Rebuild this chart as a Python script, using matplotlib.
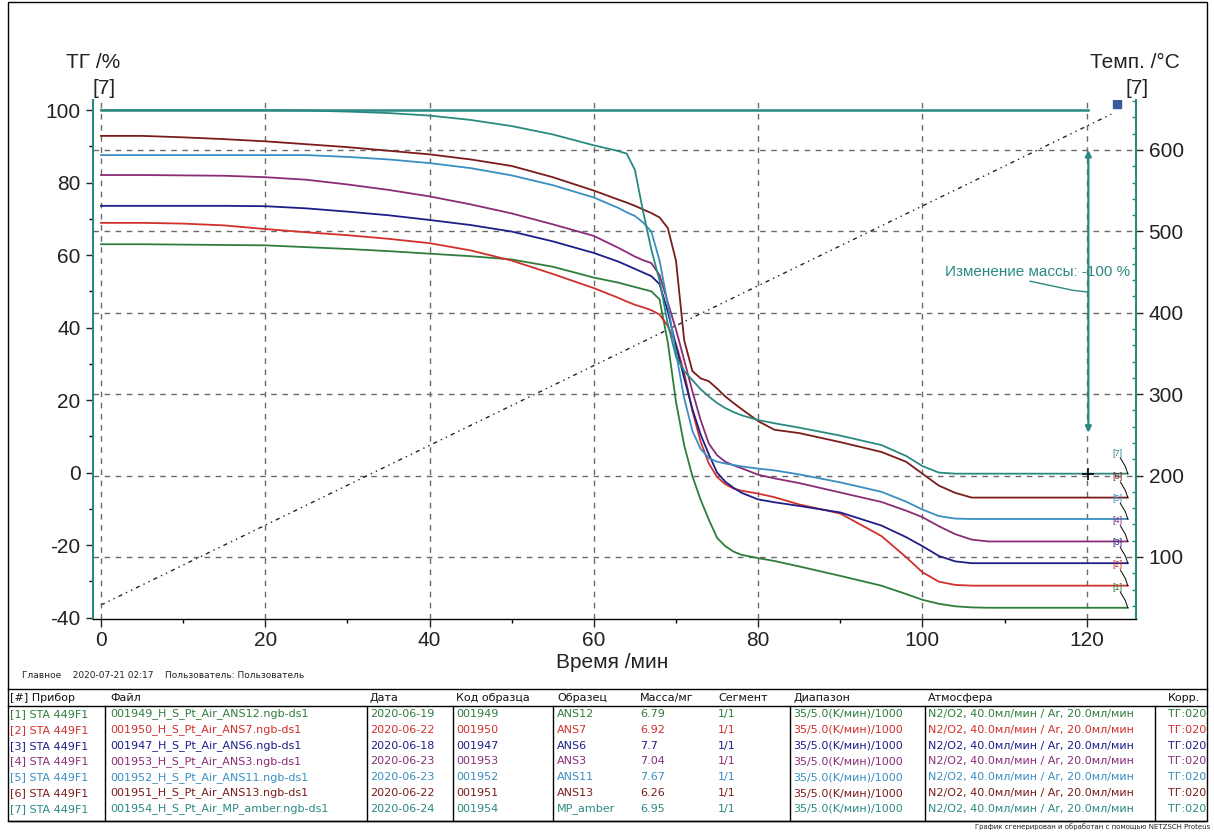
import matplotlib
matplotlib.use("Agg")
import matplotlib.pyplot as plt
from matplotlib.ticker import MultipleLocator
from matplotlib.lines import Line2D
from matplotlib.patches import Rectangle

plt.rcParams['font.family'] = ['Liberation Sans', 'DejaVu Sans']
plt.rcParams['axes.unicode_minus'] = False

W, H = 1214, 832

# ---------------- data ----------------
time_min = [0, 5, 10, 15, 20, 25, 30, 35, 40, 45, 50, 55, 60, 63, 64, 65, 66, 67, 68, 69,
            70, 71, 72, 73, 74, 75, 76, 77, 78, 80, 82, 85, 90, 95, 98, 100, 102, 104,
            106, 108, 110, 115, 120, 125]

tg_1 = [63.0, 63.0, 62.9, 62.8, 62.7, 62.2, 61.7, 61.1, 60.4, 59.7, 58.8, 56.8, 53.8, 52.4,
        51.8, 51.2, 50.6, 50.0, 47.8, 36.0, 19.5, 7.5, -1.0, -7.5, -13.0, -18.0, -20.3,
        -21.8, -22.7, -23.6, -24.4, -25.9, -28.5, -31.2, -33.5, -35.1, -36.2, -36.9,
        -37.2, -37.3, -37.3, -37.3, -37.3, -37.3]
tg_2 = [68.9, 68.9, 68.7, 68.2, 67.2, 66.3, 65.5, 64.5, 63.3, 61.3, 58.5, 54.8, 50.9, 48.2,
        47.2, 46.3, 45.6, 44.8, 43.6, 40.5, 35.5, 27.5, 17.0, 8.5, 2.5, -1.2, -3.2, -4.4,
        -5.0, -5.8, -6.8, -8.8, -11.3, -17.5, -23.3, -27.5, -30.1, -31.0, -31.2, -31.2,
        -31.2, -31.2, -31.2, -31.2]
tg_3 = [73.6, 73.6, 73.6, 73.6, 73.5, 72.9, 72.0, 71.0, 69.7, 68.3, 66.5, 63.8, 60.6, 58.2,
        57.2, 56.2, 55.2, 54.2, 52.0, 44.5, 35.0, 26.0, 17.5, 10.5, 5.0, 0.0, -2.5, -4.2,
        -5.6, -7.4, -8.2, -9.2, -11.0, -14.6, -17.8, -20.3, -23.0, -24.5, -25.0, -25.0,
        -25.0, -25.0, -25.0, -25.0]
tg_4 = [82.1, 82.1, 82.0, 81.9, 81.5, 80.8, 79.5, 78.0, 76.2, 74.0, 71.5, 68.5, 65.3, 62.0,
        60.8, 59.6, 58.6, 57.8, 54.5, 47.0, 39.5, 31.0, 22.4, 14.5, 8.0, 4.8, 3.0, 2.0,
        1.2, -0.6, -1.6, -2.9, -5.5, -8.1, -10.5, -12.3, -14.8, -17.0, -18.5, -19.0,
        -19.0, -19.0, -19.0, -19.0]
tg_5 = [87.6, 87.6, 87.6, 87.6, 87.6, 87.6, 87.1, 86.4, 85.4, 84.0, 82.0, 79.3, 75.9, 73.0,
        71.8, 70.8, 69.0, 66.5, 58.5, 46.5, 33.0, 20.5, 11.5, 6.5, 4.0, 3.0, 2.5, 2.1,
        1.7, 1.1, 0.6, -0.5, -2.7, -5.3, -8.0, -10.2, -12.0, -12.7, -12.8, -12.8, -12.8,
        -12.8, -12.8, -12.8]
tg_6 = [92.9, 92.9, 92.5, 92.0, 91.4, 90.6, 89.8, 88.8, 87.8, 86.4, 84.6, 81.5, 77.8, 75.3,
        74.5, 73.6, 72.6, 71.6, 70.4, 67.5, 58.5, 36.5, 28.0, 26.0, 25.2, 23.2, 21.0, 19.2,
        17.5, 14.2, 11.8, 10.9, 8.4, 5.7, 3.0, -0.3, -3.6, -5.6, -6.9, -6.9, -6.9, -6.9,
        -6.9, -6.9]
tg_7 = [100.0, 100.0, 100.0, 100.0, 100.0, 99.9, 99.6, 99.2, 98.5, 97.3, 95.6, 93.3, 90.3,
        88.7, 88.0, 83.5, 72.0, 61.5, 53.0, 41.0, 32.0, 28.0, 25.5, 23.0, 21.0, 19.2, 17.8,
        16.7, 15.8, 14.5, 13.6, 12.4, 10.2, 7.6, 4.6, 1.8, 0.0, -0.3, -0.3, -0.3, -0.3,
        -0.3, -0.3, -0.3]

temp_time = [0, 123]
temp_c = [41, 644]

mass_step_time = 120.2
mass_step_from = 89.0
mass_step_to = 11.0
mass_step_text = "Изменение массы: -100 %"

labels = ["[1]", "[2]", "[3]", "[4]", "[5]", "[6]", "[7]"]
colors = ["#2f7d3c", "#d2302c", "#1e1e8a", "#8a2c78", "#3a8ec2", "#7a1c1c", "#2a8a80"]

instruments = ["STA 449F1"] * 7
files = ["001949_H_S_Pt_Air_ANS12.ngb-ds1", "001950_H_S_Pt_Air_ANS7.ngb-ds1",
         "001947_H_S_Pt_Air_ANS6.ngb-ds1", "001953_H_S_Pt_Air_ANS3.ngb-ds1",
         "001952_H_S_Pt_Air_ANS11.ngb-ds1", "001951_H_S_Pt_Air_ANS13.ngb-ds1",
         "001954_H_S_Pt_Air_MP_amber.ngb-ds1"]
dates = ["2020-06-19", "2020-06-22", "2020-06-18", "2020-06-23", "2020-06-23",
         "2020-06-22", "2020-06-24"]
codes = ["001949", "001950", "001947", "001953", "001952", "001951", "001954"]
samples = ["ANS12", "ANS7", "ANS6", "ANS3", "ANS11", "ANS13", "MP_amber"]
masses = ["6.79", "6.92", "7.7", "7.04", "7.67", "6.26", "6.95"]
segments = ["1/1"] * 7
ranges = ["35/5.0(K/мин)/1000"] * 7
atmospheres = ["N2/O2, 40.0мл/мин / Ar, 20.0мл/мин"] * 7
corrections = ["ТГ:020"] * 7
headers = ["[#] Прибор", "Файл", "Дата", "Код образца", "Образец", "Масса/мг",
           "Сегмент", "Диапазон", "Атмосфера", "Корр."]

series = [tg_1, tg_2, tg_3, tg_4, tg_5, tg_6, tg_7]

# ---------------- figure ----------------
fig = plt.figure(figsize=(W / 100, H / 100), dpi=100)
fig.patch.set_facecolor("white")


def fx(px):
    return px / W


def fy(py):
    return 1 - py / H


ax = fig.add_axes([fx(93), fy(619), (1136 - 93) / W, (619 - 100) / H])
ax2 = ax.twinx()
ax.set_zorder(ax2.get_zorder() + 1)
ax.patch.set_visible(False)

ax.set_xlim(-0.97, 126.0)
ax.set_ylim(-40.4, 102.8)
ax2.set_ylim(23.8, 661.4)

teal = colors[6]
grid_kw = dict(color="#6a6a6a", linestyle=(0, (4, 4)), linewidth=1.0)

ax.xaxis.set_major_locator(MultipleLocator(20))
ax.xaxis.set_minor_locator(MultipleLocator(10))
ax.grid(True, axis="x", **grid_kw)
ax.grid(False, axis="y")
ax2.yaxis.set_major_locator(MultipleLocator(100))
ax2.yaxis.set_minor_locator(MultipleLocator(20))
ax2.grid(True, axis="y", **grid_kw)

ax.yaxis.set_major_locator(MultipleLocator(20))
ax.yaxis.set_minor_locator(MultipleLocator(10))

for a in (ax, ax2):
    a.spines["top"].set_visible(False)
ax.spines["right"].set_visible(False)
ax2.spines["left"].set_visible(False)
ax2.spines["bottom"].set_visible(False)
ax.spines["left"].set_color(teal)
ax.spines["left"].set_linewidth(1.5)
ax2.spines["right"].set_color(teal)
ax2.spines["right"].set_linewidth(1.5)
ax.spines["bottom"].set_color("black")
ax.spines["bottom"].set_linewidth(1.0)

ax.tick_params(axis="y", which="major", direction="out", length=5, width=1,
               labelsize=15, pad=4, colors="#222222")
ax.tick_params(axis="y", which="minor", direction="out", length=3, width=1)
ax.tick_params(axis="x", which="major", direction="out", length=6, width=1,
               labelsize=15, pad=3, colors="#222222")
ax.tick_params(axis="x", which="minor", direction="out", length=3, width=1)
ax2.tick_params(axis="y", which="major", direction="out", length=5, width=1,
                labelsize=15, pad=4, colors="#222222")
ax2.tick_params(axis="y", which="minor", direction="in", length=3, width=1,
                color=teal)

# temperature program (dotted)
ax2.plot(temp_time, temp_c, color="#222222", linewidth=1.0,
         linestyle=(0, (3, 3, 1, 3, 1, 3)))
ax2.plot([temp_time[-1] + 0.7], [temp_c[-1] + 13], marker="s", markersize=6,
         color="#3a5a9c", linestyle="none")

# TG curves
for s, c in zip(series, colors):
    ax.plot(time_min, s, color=c, linewidth=1.3, solid_joinstyle="round")

# mass-change reference line at the start level of curve [7]
ax.plot([0, mass_step_time], [tg_7[0], tg_7[0]], color=teal, linewidth=1.8)

# mass change arrow
ax.annotate("", xy=(mass_step_time, mass_step_to), xytext=(mass_step_time, mass_step_from),
            arrowprops=dict(arrowstyle="<|-|>", color=teal, lw=1.6,
                            mutation_scale=9, shrinkA=0, shrinkB=0))
ax.plot([mass_step_time], [tg_7[-1]], marker="+", color="black", markersize=9,
        markeredgewidth=1.2)
ax.text(125.3, 55.3, mass_step_text, ha="right", va="center",
        fontsize=11, color=teal)
ax.plot([113.1, 118.3, mass_step_time], [52.8, 50.3, 49.8], color=teal, linewidth=1.0)

# end labels with leader lines
for lab, s, c in zip(labels, series, colors):
    ly = s[-1] + 5.7
    ax.text(123.8, ly, lab, fontsize=6.5, color=c, ha="center", va="center")
    ax.plot([124.1, 124.7, 125.0], [ly - 1.4, s[-1] + 2.0, s[-1]], color="black",
            linewidth=0.7)

# axis titles
fig.text(fx(93), fy(62), "ТГ /%", fontsize=15, ha="center", va="center", color="#222222")
fig.text(fx(104), fy(88), "[7]", fontsize=15, ha="center", va="center", color="#222222")
fig.text(fx(1135), fy(62), "Темп. /°C", fontsize=15, ha="center", va="center",
         color="#222222")
fig.text(fx(1137), fy(88), "[7]", fontsize=15, ha="center", va="center", color="#222222")
fig.text(fx(612), fy(662), "Время /мин", fontsize=15, ha="center", va="center",
         color="#222222")

# footer info
tfont = ["DejaVu Sans"]
fig.text(fx(22), fy(676), "Главное    2020-07-21 02:17    Пользователь: Пользователь",
         fontsize=6.5, family=tfont, ha="left", va="center", color="#222222")

# table
col_x = [10, 110, 370, 456, 557, 640, 718, 793, 928, 1168]
sep_x = [105, 367, 453, 553, 790, 925, 1155]
header_y = 698
row_y0 = 714
row_dy = 15.8
for hx, htxt in zip(col_x, headers):
    fig.text(fx(hx), fy(header_y), htxt, fontsize=8, family=tfont, ha="left",
             va="center", color="#111111")
for i in range(7):
    yy = row_y0 + i * row_dy
    vals = [labels[i] + " " + instruments[i], files[i], dates[i], codes[i], samples[i],
            masses[i], segments[i], ranges[i], atmospheres[i], corrections[i]]
    for cx, v in zip(col_x, vals):
        fig.text(fx(cx), fy(yy), v, fontsize=8, family=tfont, ha="left", va="center",
                 color=colors[i])

line_kw = dict(transform=fig.transFigure, color="black", linewidth=1.0)
for yy in (689, 706, 821):
    fig.add_artist(Line2D([fx(8), fx(1207)], [fy(yy), fy(yy)], **line_kw))
for xx in sep_x:
    fig.add_artist(Line2D([fx(xx), fx(xx)], [fy(706), fy(821)], **line_kw))
fig.add_artist(Rectangle((fx(8), fy(821)), (1207 - 8) / W, (821 - 2) / H,
                         transform=fig.transFigure, fill=False, edgecolor="black",
                         linewidth=1.0))
fig.text(fx(1210), fy(826.5), "График сгенерирован и обработан с помощью NETZSCH Proteus",
         fontsize=5, family=tfont, ha="right", va="center", color="#222222")

fig.savefig("out.png", dpi=100)
